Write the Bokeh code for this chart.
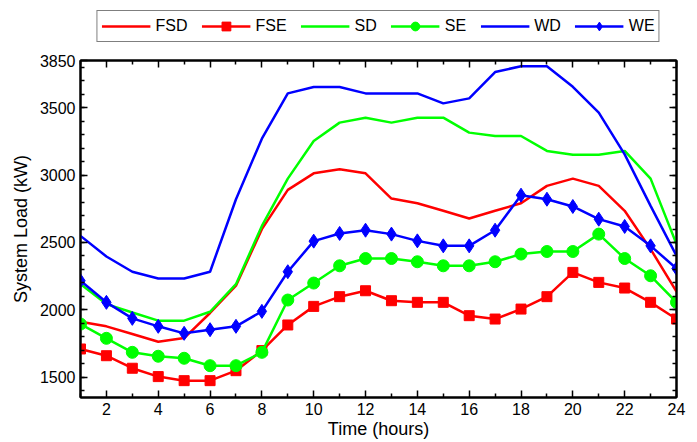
from bokeh.plotting import figure
from bokeh.layouts import column
from bokeh.models import (FixedTicker, LinearAxis, Legend, LegendItem, Range1d)
from bokeh.embed import file_html
from bokeh.resources import INLINE

hours = list(range(1, 25))
FSD = [1912, 1878, 1821, 1764, 1791, 1977, 2179, 2599, 2890, 3013, 3043, 3013,
       2826, 2791, 2735, 2678, 2735, 2791, 2920, 2974, 2920, 2735, 2451, 2135]
FSE = [1710, 1660, 1567, 1505, 1475, 1475, 1549, 1698, 1888, 2026, 2098, 2142,
       2068, 2056, 2056, 1957, 1932, 2006, 2098, 2278, 2204, 2162, 2056, 1932]
SD = [2191, 2043, 1981, 1920, 1920, 1986, 2191, 2623, 2974, 3253, 3389, 3426,
      3389, 3426, 3426, 3315, 3290, 3290, 3179, 3150, 3150, 3179, 2974, 2488]
SE = [1895, 1789, 1685, 1656, 1641, 1586, 1586, 1685, 2073, 2199, 2327, 2381,
      2381, 2357, 2327, 2327, 2357, 2414, 2433, 2433, 2562, 2381, 2253, 2056]
WD = [2549, 2396, 2283, 2233, 2233, 2283, 2821, 3270, 3606, 3653, 3653, 3606,
      3606, 3606, 3532, 3569, 3764, 3808, 3808, 3655, 3463, 3154, 2772, 2401]
WE = [2216, 2056, 1937, 1878, 1826, 1853, 1878, 1989, 2283, 2510, 2567, 2591,
      2562, 2512, 2475, 2475, 2591, 2851, 2821, 2767, 2673, 2619, 2475, 2307]

x_ticks = [2, 4, 6, 8, 10, 12, 14, 16, 18, 20, 22, 24]
x_minor = [1, 3, 5, 7, 9, 11, 13, 15, 17, 19, 21, 23]
y_ticks = [1500, 2000, 2500, 3000, 3500, 3850]
y_minor = list(range(1400, 3850, 100))

FONT = "Liberation Sans"
RED, GREEN, BLUE = "#FF0000", "#00FF00", "#0000FF"
lw = 2.5


def add_series(fig, sq, ci, di):
    r = {}
    r["FSD"] = [fig.line(hours, FSD, line_color=RED, line_width=lw)]
    r["FSE"] = [fig.line(hours, FSE, line_color=RED, line_width=lw),
                fig.scatter(hours, FSE, marker="square", size=sq,
                            fill_color=RED, line_color=RED)]
    r["SD"] = [fig.line(hours, SD, line_color=GREEN, line_width=lw)]
    r["SE"] = [fig.line(hours, SE, line_color=GREEN, line_width=lw),
               fig.scatter(hours, SE, marker="circle", size=ci,
                           fill_color=GREEN, line_color=GREEN)]
    r["WD"] = [fig.line(hours, WD, line_color=BLUE, line_width=lw)]
    r["WE"] = [fig.line(hours, WE, line_color=BLUE, line_width=lw),
               fig.scatter(hours, WE, marker="diamond", size=di,
                           fill_color=BLUE, line_color=BLUE)]
    return r


# ---------- main chart ----------
p = figure(width=690, height=391, output_backend="svg", toolbar_location=None,
           x_range=Range1d(1, 24), y_range=Range1d(1350, 3850),
           x_axis_label="Time (hours)", y_axis_label="System Load (kW)",
           min_border_left=80, min_border_right=14, min_border_top=9,
           min_border_bottom=45)
p.xgrid.visible = False
p.ygrid.visible = False
p.outline_line_color = "black"
p.outline_line_width = 2
p.background_fill_color = "white"
p.border_fill_color = "white"
add_series(p, 10, 12, 14)


def style_axis(ax, ticks, minor, labels=True):
    ax.ticker = FixedTicker(ticks=ticks, minor_ticks=minor)
    ax.axis_line_color = "black"
    ax.axis_line_width = 2
    ax.major_tick_in = 7
    ax.major_tick_out = 0
    ax.minor_tick_in = 4
    ax.minor_tick_out = 0
    ax.major_tick_line_width = 1.5
    ax.minor_tick_line_width = 1.5
    ax.major_tick_line_color = "black"
    ax.minor_tick_line_color = "black"
    ax.major_label_text_font = FONT
    ax.major_label_text_font_size = "16px"
    ax.major_label_text_color = "black"
    ax.axis_label_text_font = FONT
    ax.axis_label_text_font_size = "18px"
    ax.axis_label_text_font_style = "normal"
    ax.axis_label_text_color = "black"
    if not labels:
        ax.major_label_text_font_size = "0px"
        ax.major_label_text_alpha = 0


style_axis(p.xaxis[0], x_ticks, x_minor)
style_axis(p.yaxis[0], y_ticks, y_minor)
p.xaxis[0].major_label_standoff = 5
p.xaxis[0].axis_label_standoff = 1
p.yaxis[0].major_label_standoff = 5
p.yaxis[0].axis_label_standoff = 6

top = LinearAxis()
right = LinearAxis()
style_axis(top, x_ticks, x_minor, labels=False)
style_axis(right, y_ticks, y_minor, labels=False)
top.major_label_standoff = 0
right.major_label_standoff = 0
p.add_layout(top, "above")
p.add_layout(right, "right")

# ---------- legend strip (series kept out of its view, only the key shows) ----------
lp = figure(width=690, height=51, output_backend="svg", toolbar_location=None,
            x_axis_type=None, y_axis_type=None,
            x_range=Range1d(100, 101), y_range=Range1d(100, 101),
            min_border_left=80, min_border_right=14, min_border_top=0,
            min_border_bottom=0)
lp.outline_line_color = None
lp.xgrid.visible = False
lp.ygrid.visible = False
lp.background_fill_color = "white"
lp.border_fill_color = "white"
keys = add_series(lp, 9, 11, 12)

legend = Legend(items=[LegendItem(label=name, renderers=keys[name])
                       for name in ["FSD", "FSE", "SD", "SE", "WD", "WE"]],
                orientation="horizontal", location="center")
legend.label_text_font = FONT
legend.label_text_font_size = "16px"
legend.label_text_color = "black"
legend.glyph_width = 49
legend.glyph_height = 22
legend.label_height = 20
legend.label_standoff = 5
legend.spacing = 14
legend.padding = 4
legend.margin = 0
legend.border_line_color = "black"
legend.border_line_width = 1.5
legend.background_fill_alpha = 1
lp.add_layout(legend, "center")

layout = column(lp, p, spacing=0)
open("out.html", "w").write(file_html(layout, INLINE))
